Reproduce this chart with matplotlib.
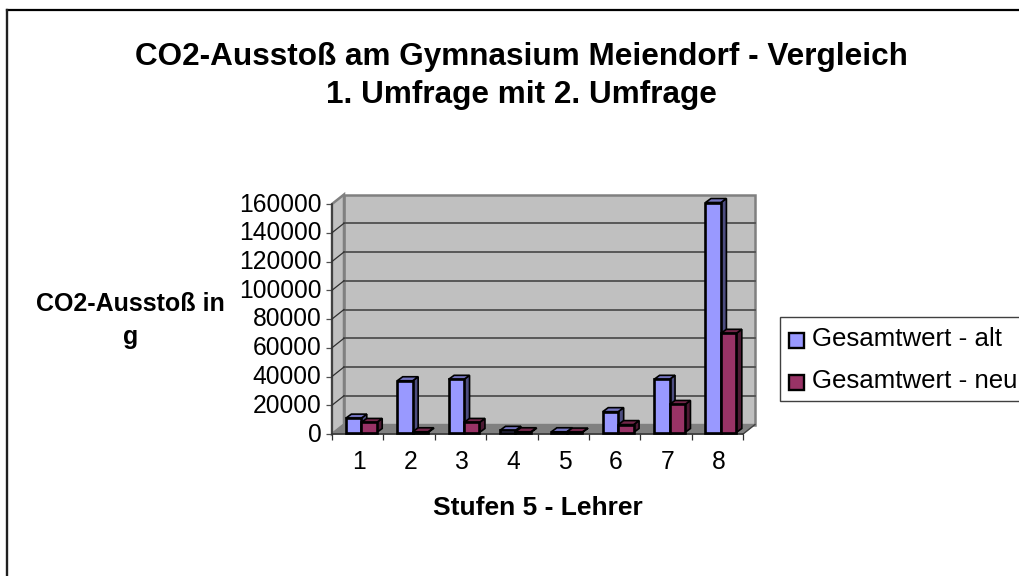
import matplotlib
matplotlib.use("Agg")
import matplotlib.pyplot as plt
from matplotlib.patches import Polygon, Rectangle
from matplotlib.lines import Line2D
from matplotlib.transforms import ScaledTranslation

categories = ["1", "2", "3", "4", "5", "6", "7", "8"]
alt = [10000, 36000, 37000, 1500, 500, 14500, 37000, 160000]
neu = [7000, 500, 7000, 500, 300, 5500, 19500, 69000]
y_ticks = [0, 20000, 40000, 60000, 80000, 100000, 120000, 140000, 160000]
series_names = ["Gesamtwert - alt", "Gesamtwert - neu"]
title_lines = ["CO2-Ausstoß am Gymnasium Meiendorf - Vergleich", "1. Umfrage mit 2. Umfrage"]
y_title_lines = ["CO2-Ausstoß in", "g"]
x_title = "Stufen 5 - Lehrer"

W, H = 1020, 576
plt.rcParams["font.family"] = ["Liberation Sans", "DejaVu Sans"]
fig = plt.figure(figsize=(W / 100, H / 100), dpi=100, facecolor="white")

def fx(px): return px / W
def fy(py): return 1 - py / H

# chart frame: only top and left edges are inside the picture
fig.add_artist(Line2D([fx(7.5), 1], [fy(9.5), fy(9.5)], transform=fig.transFigure, color="black", lw=1.6))
fig.add_artist(Line2D([fx(7.5), fx(7.5)], [fy(9.5), 0], transform=fig.transFigure, color="#202020", lw=1.7))

L, R, T, B = 332, 743, 204, 434
ax = fig.add_axes([fx(L), fy(B), (R - L) / W, (B - T) / H])
ax.set_xlim(0.5, 8.5)
ax.set_ylim(0, 160000)
ax.patch.set_visible(False)
for s in ["top", "right"]:
    ax.spines[s].set_visible(False)
AXC = "#303030"
ax.spines["left"].set_linewidth(1.1)
ax.spines["bottom"].set_linewidth(1.1)
ax.spines["left"].set_color(AXC)
ax.spines["bottom"].set_color(AXC)
ax.spines["left"].set_zorder(2)
ax.spines["bottom"].set_zorder(2)

ux = (R - L) / 8            # px per category
uy = (B - T) / 160000       # px per value
dX, dY = 12 / ux, 9.5 / uy  # wall depth in data units

WALL = "#c0c0c0"; EDGE = "#808080"; FLOOR = "#808080"
ax.add_patch(Polygon([(0.5 + dX, dY), (8.5 + dX, dY), (8.5 + dX, 160000 + dY), (0.5 + dX, 160000 + dY)],
                     closed=True, fc=WALL, ec=EDGE, lw=1.8, clip_on=False, zorder=1))
ax.add_patch(Polygon([(0.5, 0), (0.5 + dX, dY), (0.5 + dX, 160000 + dY), (0.5, 160000)],
                     closed=True, fc=WALL, ec=EDGE, lw=1.8, clip_on=False, zorder=1))
ax.add_patch(Polygon([(0.5, 0), (8.5, 0), (8.5 + dX, dY), (0.5 + dX, dY)],
                     closed=True, fc=FLOOR, ec=EDGE, lw=1, clip_on=False, zorder=1))
for v in y_ticks[1:-1]:
    ax.plot([0.5 + dX, 8.5 + dX], [v + dY, v + dY], color="#505050", lw=1.3, clip_on=False, zorder=1.5)
    ax.plot([0.5, 0.5 + dX], [v, v + dY], color="#303030", lw=0.9, clip_on=False, zorder=1.5)
ax.plot([8.5, 8.5 + dX], [0, dY], color="#404040", lw=0.9, clip_on=False, zorder=1.5)

bw = 0.30
shift = 0.07
base = 1.5 / uy
ddx, ddy = 5.5 / ux, 4 / uy

def bar3d(x, v, front, top, side, z):
    x0, x1 = x, x + bw
    y0, y1 = base, base + v
    ax.add_patch(Polygon([(x1, y0), (x1 + ddx, y0 + ddy), (x1 + ddx, y1 + ddy), (x1, y1)],
                         closed=True, fc=side, ec="black", lw=1.2, clip_on=False, zorder=z))
    ax.add_patch(Polygon([(x0, y1), (x1, y1), (x1 + ddx, y1 + ddy), (x0 + ddx, y1 + ddy)],
                         closed=True, fc=top, ec="black", lw=1.2, clip_on=False, zorder=z))
    ax.add_patch(Polygon([(x0, y0), (x1, y0), (x1, y1), (x0, y1)],
                         closed=True, fc=front, ec="black", lw=1.9, clip_on=False, zorder=z + 0.1))

for i, (a, n) in enumerate(zip(alt, neu)):
    c = i + 1 + shift
    bar3d(c - bw, a, "#9999ff", "#7373bf", "#4d4d80", 3)
    bar3d(c, n, "#993366", "#732649", "#4d1a33", 3.5)

ax.set_xticks([0.5 + i for i in range(9)])
ax.set_xticklabels([])
ax.tick_params(axis="x", length=4.5, width=0.9, color=AXC)
ax.set_yticks(y_ticks)
ax.set_yticklabels([str(v) for v in y_ticks])
ax.tick_params(axis="y", length=4.5, width=0.9, color="#505050", pad=3, labelsize=17.7)
up = ScaledTranslation(0, 2 / 100, fig.dpi_scale_trans)
for lab in ax.get_yticklabels():
    lab.set_transform(lab.get_transform() + up)
for i, c in enumerate(categories):
    ax.text(i + 1.03, -28 / uy, c, ha="center", va="center", fontsize=17.7, color="black", clip_on=False)

fig.text(fx(521), fy(57), title_lines[0], ha="center", va="center", fontsize=22.7, fontweight="bold")
fig.text(fx(521), fy(95), title_lines[1], ha="center", va="center", fontsize=22.7, fontweight="bold")
fig.text(fx(130.5), fy(304), y_title_lines[0], ha="center", va="center", fontsize=18, fontweight="bold")
fig.text(fx(130.5), fy(337), y_title_lines[1], ha="center", va="center", fontsize=18, fontweight="bold")
fig.text(fx(537.5), fy(508), x_title, ha="center", va="center", fontsize=19, fontweight="bold")

# legend
fig.add_artist(Rectangle((fx(780), fy(401)), (W + 20 - 780) / W, 84 / H,
                         transform=fig.transFigure, fc="white", ec="#404040", lw=1))
for yy, col, name in [(340, "#9999ff", series_names[0]), (382, "#993366", series_names[1])]:
    fig.add_artist(Rectangle((fx(789.5), fy(yy + 7.5)), 14.5 / W, 15 / H, transform=fig.transFigure,
                             fc=col, ec="black", lw=1.7))
    fig.text(fx(812), fy(yy - 1), name, ha="left", va="center", fontsize=18.6)

fig.savefig("out.png", dpi=100)
